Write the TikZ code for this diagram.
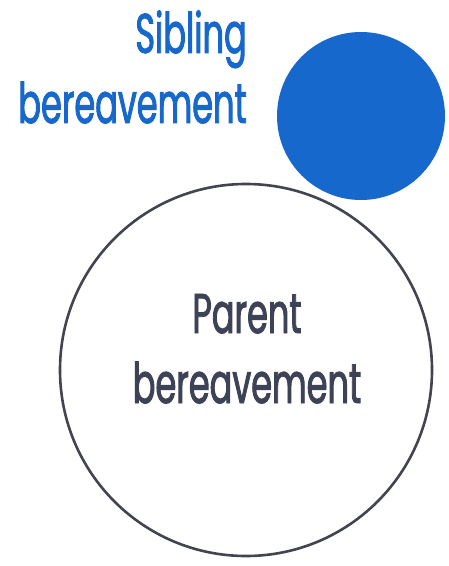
\documentclass[tikz,border=0pt]{standalone}
\usepackage{fontspec}
\setmainfont[FakeStretch=0.6,FakeBold=1.6]{Poppins}
\usetikzlibrary{positioning}
\definecolor{sibblue}{RGB}{22,104,204}
\definecolor{partxt}{RGB}{62,66,86}
\definecolor{parline}{RGB}{66,68,80}
\tikzset{
  sibcirc/.style = { circle, fill=sibblue, inner sep=0pt, minimum size=168bp },
  parcirc/.style = { circle, draw=parline, line width=2.6bp, inner sep=0pt, minimum size=372bp },
  lbl/.style     = { inner sep=0pt, font=\fontsize{56bp}{70bp}\selectfont }
}
\begin{document}
\begin{tikzpicture}[x=1bp,y=-1bp]
  \useasboundingbox (0,0) rectangle (449,566);
  % sibling loss, top right
  \node[sibcirc] (sib) at (361,116) {};
  \node[lbl, text=sibblue, align=right, anchor=base east] (sibtxt) at (247,123) {Sibling\\bereavement};
  % parent loss
  \node[parcirc] (par) at (246,370) {};
  \node[lbl, text=partxt, align=center, anchor=base] (partxt) at (247,403) {Parent\\bereavement};
\end{tikzpicture}
\end{document}
